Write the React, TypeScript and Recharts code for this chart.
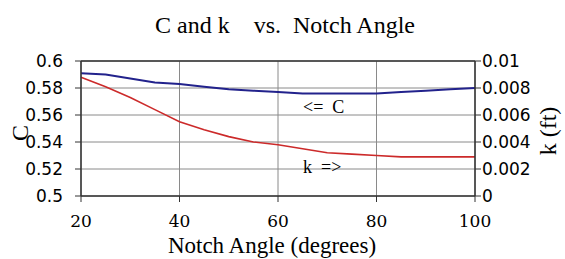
import React from "react";
import {
  LineChart,
  Line,
  XAxis,
  YAxis,
  CartesianGrid,
  ReferenceLine,
  Customized,
} from "recharts";

const angles = [20, 25, 30, 35, 40, 45, 50, 55, 60, 65, 70, 75, 80, 85, 90, 95, 100];
const cValues = [0.591, 0.590, 0.587, 0.584, 0.583, 0.581, 0.579, 0.578, 0.577, 0.576, 0.576, 0.576, 0.576, 0.577, 0.578, 0.579, 0.580];
const kValues = [0.0088, 0.0081, 0.0073, 0.0064, 0.0055, 0.0049, 0.0044, 0.0040, 0.0038, 0.0035, 0.0032, 0.0031, 0.0030, 0.0029, 0.0029, 0.0029, 0.0029];

const xTicks = [20, 40, 60, 80, 100];
const cTicks = [0.5, 0.52, 0.54, 0.56, 0.58, 0.6];
const kTicks = [0, 0.002, 0.004, 0.006, 0.008, 0.01];

const titleText = "C and k    vs.  Notch Angle";
const xLabel = "Notch Angle (degrees)";
const cLabel = "C";
const kLabel = "k (ft)";
const cNote = "<=  C";
const kNote = "k  =>";

const data = angles.map((a, i) => ({ angle: a, C: cValues[i], k: kValues[i] }));

const serif = "'Liberation Serif', 'Times New Roman', serif";
const sans = "'DejaVu Sans', sans-serif";
const dserif = "'DejaVu Serif', serif";

const Texts = () => (
  <g>
    <text x={285} y={33} textAnchor="middle" fontFamily={serif} fontSize={24} fill="#000" style={{ whiteSpace: "pre" }}>
      {titleText}
    </text>
    <text x={272} y={253} textAnchor="middle" fontFamily={serif} fontSize={23} fill="#000">
      {xLabel}
    </text>
    <text x={20} y={133} textAnchor="middle" dominantBaseline="central" transform="rotate(-90 20 133)" fontFamily={serif} fontSize={24} fill="#000">
      {cLabel}
    </text>
    <text x={548} y={131} textAnchor="middle" dominantBaseline="central" transform="rotate(-90 548 131)" fontFamily={serif} fontSize={24} fill="#000">
      {kLabel}
    </text>
    <text x={303} y={113} fontFamily={serif} fontSize={18} fill="#000" style={{ whiteSpace: "pre" }}>
      {cNote}
    </text>
    <text x={303} y={173} fontFamily={serif} fontSize={18} fill="#000" style={{ whiteSpace: "pre" }}>
      {kNote}
    </text>
  </g>
);

export default function App() {
  return (
    <div style={{ position: "absolute", left: 0, top: 0, width: 565, height: 259, background: "#fff" }}>
      <LineChart width={565} height={259} data={data} margin={{ top: 61, right: 0, bottom: 0, left: 0 }}>
        <CartesianGrid yAxisId="left" stroke="#8a8a8a" strokeWidth={1} vertical={true} horizontal={true} />
        <XAxis
          dataKey="angle"
          type="number"
          domain={[20, 100]}
          ticks={xTicks}
          height={63}
          tickSize={6}
          tickMargin={13}
          axisLine={{ stroke: "#333", strokeWidth: 1.5 }}
          tickLine={{ stroke: "#333" }}
          tick={{ fill: "#000", fontFamily: dserif, fontSize: 17 }}
        />
        <YAxis
          yAxisId="left"
          orientation="left"
          domain={[0.5, 0.6]}
          ticks={cTicks}
          width={81}
          tickSize={6}
          tickMargin={12}
          axisLine={{ stroke: "#333", strokeWidth: 1.5 }}
          tickLine={{ stroke: "#333" }}
          tick={{ fill: "#000", fontFamily: sans, fontSize: 17 }}
        />
        <YAxis
          yAxisId="right"
          orientation="right"
          domain={[0, 0.01]}
          ticks={kTicks}
          width={90}
          tickSize={6}
          tickMargin={1}
          axisLine={{ stroke: "#333", strokeWidth: 1.5 }}
          tickLine={{ stroke: "#333" }}
          tick={{ fill: "#000", fontFamily: sans, fontSize: 17 }}
        />
        <ReferenceLine yAxisId="left" y={0.6} stroke="#333" strokeWidth={1.5} />
        <Line yAxisId="left" dataKey="C" type="linear" stroke="#22228c" strokeWidth={2} dot={false} isAnimationActive={false} />
        <Line yAxisId="right" dataKey="k" type="linear" stroke="#cc2a2a" strokeWidth={1.6} dot={false} isAnimationActive={false} />
        <Customized component={Texts} />
      </LineChart>
    </div>
  );
}
